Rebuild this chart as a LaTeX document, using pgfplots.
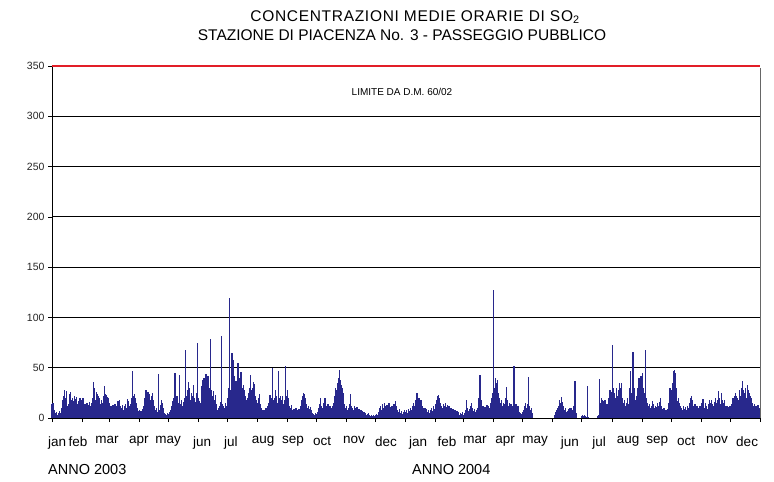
\documentclass[border=0pt]{standalone}
\usepackage{pgfplots}
\usepackage{pgfplotstable}
\pgfplotsset{compat=1.18}
\usepackage{fontspec}
\setmainfont{Liberation Sans}
\newfontfamily\widefont[LetterSpace=4.5]{Liberation Sans}
\definecolor{sobar}{RGB}{40,40,140}
\definecolor{limred}{RGB}{226,30,40}

\pgfplotstableread[row sep=\\]{
so2\\
14\\15\\8\\4\\5\\6\\3\\5\\7\\5\\
10\\18\\22\\28\\20\\27\\12\\14\\24\\26\\
18\\20\\17\\22\\19\\21\\14\\17\\13\\20\\
18\\15\\20\\12\\14\\11\\15\\10\\13\\16\\
12\\15\\20\\36\\30\\18\\26\\24\\22\\20\\
14\\18\\15\\22\\32\\24\\23\\21\\20\\15\\
10\\12\\8\\13\\10\\14\\9\\12\\17\\14\\
18\\12\\10\\13\\8\\12\\14\\10\\19\\17\\
12\\14\\20\\47\\22\\24\\20\\15\\10\\7\\
8\\5\\7\\6\\9\\12\\20\\28\\22\\26\\
19\\24\\18\\22\\25\\18\\12\\8\\10\\6\\
44\\8\\13\\18\\15\\10\\5\\4\\3\\5\\
4\\6\\3\\8\\12\\17\\20\\45\\18\\22\\
12\\15\\43\\14\\18\\12\\16\\20\\68\\22\\
28\\36\\30\\18\\25\\22\\33\\20\\16\\25\\
75\\20\\17\\15\\22\\32\\38\\40\\35\\44\\
38\\42\\30\\25\\79\\28\\22\\27\\18\\23\\
14\\8\\10\\12\\16\\82\\14\\12\\10\\15\\
12\\20\\30\\119\\28\\62\\65\\58\\42\\30\\
37\\33\\55\\40\\38\\46\\38\\30\\33\\28\\
22\\18\\20\\25\\30\\43\\28\\30\\36\\34\\
22\\18\\15\\20\\24\\14\\10\\8\\6\\8\\
7\\10\\6\\12\\15\\23\\20\\15\\50\\18\\
20\\28\\22\\15\\47\\20\\22\\18\\22\\14\\
18\\52\\22\\28\\20\\12\\10\\13\\8\\6\\
9\\7\\10\\8\\5\\9\\7\\12\\18\\22\\
25\\24\\20\\14\\10\\12\\9\\11\\8\\5\\
4\\3\\5\\4\\6\\10\\14\\20\\12\\10\\
15\\13\\20\\12\\10\\14\\9\\12\\10\\8\\
12\\15\\22\\30\\28\\35\\40\\48\\38\\33\\
30\\25\\14\\10\\12\\8\\10\\14\\24\\12\\
10\\8\\12\\10\\9\\11\\8\\9\\6\\8\\
7\\5\\6\\4\\5\\3\\4\\5\\3\\2\\
3\\2\\3\\2\\3\\4\\3\\6\\10\\12\\
8\\14\\10\\15\\12\\9\\13\\10\\15\\11\\
8\\12\\9\\14\\10\\17\\12\\8\\6\\9\\
5\\7\\4\\6\\8\\6\\8\\5\\9\\7\\
10\\8\\12\\15\\12\\18\\20\\25\\18\\20\\
15\\18\\12\\10\\8\\10\\7\\9\\6\\8\\
5\\8\\10\\7\\12\\9\\14\\18\\22\\23\\
20\\15\\12\\10\\14\\12\\15\\11\\13\\10\\
12\\8\\10\\7\\9\\6\\8\\5\\7\\4\\
6\\3\\5\\4\\6\\3\\5\\8\\18\\10\\
7\\9\\12\\15\\10\\7\\9\\6\\8\\10\\
12\\20\\43\\18\\10\\12\\9\\11\\10\\13\\
9\\12\\10\\15\\20\\25\\127\\30\\40\\35\\
38\\25\\20\\15\\18\\12\\15\\14\\20\\31\\
18\\12\\15\\10\\14\\12\\9\\52\\12\\14\\
10\\12\\8\\6\\5\\4\\6\\8\\12\\15\\
10\\14\\41\\12\\8\\10\\5\\0\\0\\0\\
0\\0\\0\\0\\0\\0\\0\\0\\0\\0\\
0\\0\\0\\0\\0\\0\\0\\0\\0\\3\\
6\\8\\10\\12\\18\\15\\21\\16\\12\\8\\
10\\6\\7\\9\\10\\8\\10\\6\\8\\12\\
37\\5\\0\\0\\0\\0\\0\\2\\3\\2\\
3\\2\\1\\32\\1\\0\\0\\0\\0\\0\\
0\\0\\0\\2\\3\\39\\15\\20\\18\\17\\
15\\18\\10\\14\\12\\20\\28\\26\\24\\73\\
30\\25\\20\\30\\22\\28\\35\\30\\35\\20\\
15\\18\\12\\15\\20\\14\\30\\47\\25\\20\\
66\\30\\18\\17\\22\\30\\40\\38\\42\\35\\
45\\30\\25\\68\\20\\15\\12\\14\\10\\12\\
17\\14\\10\\12\\11\\15\\12\\16\\20\\12\\
9\\8\\10\\7\\8\\6\\9\\15\\30\\28\\
25\\35\\47\\48\\45\\30\\17\\20\\15\\12\\
10\\8\\12\\9\\11\\8\\12\\10\\15\\20\\
22\\18\\12\\10\\14\\9\\12\\8\\10\\12\\
8\\15\\19\\12\\10\\15\\12\\9\\14\\18\\
15\\18\\14\\12\\16\\20\\15\\18\\27\\20\\
14\\25\\18\\15\\18\\12\\10\\12\\9\\11\\
12\\8\\14\\20\\18\\22\\25\\22\\20\\18\\
28\\22\\30\\37\\28\\25\\30\\20\\33\\28\\
25\\22\\20\\15\\12\\14\\10\\12\\11\\13\\
10\\
}\sotwo

\begin{document}
\begin{tikzpicture}
\path[use as bounding box] (0,0) rectangle (774pt,482pt);
\begin{axis}[
  at={(52pt,64pt)}, anchor=south west,
  scale only axis, width=708pt, height=352pt,
  xmin=0, xmax=731, ymin=0, ymax=350,
  axis x line*=bottom, axis y line*=left,
  axis line style={black, line width=0.9pt},
  tick align=outside, major tick length=4pt,
  tick style={black, line width=0.6pt},
  ytick={0,50,100,150,200,250,300,350},
  ymajorgrids, grid style={black, line width=0.9pt},
  yticklabel style={font=\fontsize{10.5}{11}\selectfont, text=black!85},
  /pgf/number format/assume math mode=true,
  xtick={0,31,59,90,120,151,181,212,243,273,304,334,365,396,425,456,486,517,547,578,609,639,670,700,731},
  xticklabels={},
  extra x ticks={5.2,26.8,56.8,89.8,119.8,154.9,184.8,217.9,248.8,278.8,311.8,344.9,377.9,407.8,436.8,467.8,498.7,534.8,564.8,594.8,624.8,654.7,686.7,717.7},
  extra x tick labels={jan,feb,mar,apr,may,jun,jul,aug,sep,oct,nov,dec,jan,feb,mar,apr,may,jun,jul,aug,sep,oct,nov,dec},
  extra x tick style={major tick length=0pt, tick label style={font=\fontsize{13.5}{14}\selectfont, yshift=-15pt}},
  clip=false,
]
\addplot[ycomb, sobar, line width=1.3pt, mark=none] table[x expr=\coordindex, y=so2] {\sotwo};
\addplot[limred, line width=2.6pt, mark=none] coordinates {(0,350) (731,350)};
\draw[black!60, line width=0.8pt] (rel axis cs:1,0) -- (rel axis cs:1,0.993);
\end{axis}
\node[font=\widefont\fontsize{15.5}{17}\selectfont] at (415pt,465pt) {CONCENTRAZIONI MEDIE ORARIE DI SO\textsubscript{2}};
\node[font=\fontsize{15.5}{17}\selectfont] at (402pt,447pt) {STAZIONE DI PIACENZA No. 3 - PASSEGGIO PUBBLICO};
\node[font=\fontsize{10}{12}\selectfont] at (402pt,390pt) {LIMITE DA D.M. 60/02};
\node[font=\fontsize{14.5}{15}\selectfont, anchor=west, inner sep=0pt] at (48pt,12pt) {ANNO 2003};
\node[font=\fontsize{14.5}{15}\selectfont, anchor=west, inner sep=0pt] at (412pt,12pt) {ANNO 2004};
\end{tikzpicture}
\end{document}
